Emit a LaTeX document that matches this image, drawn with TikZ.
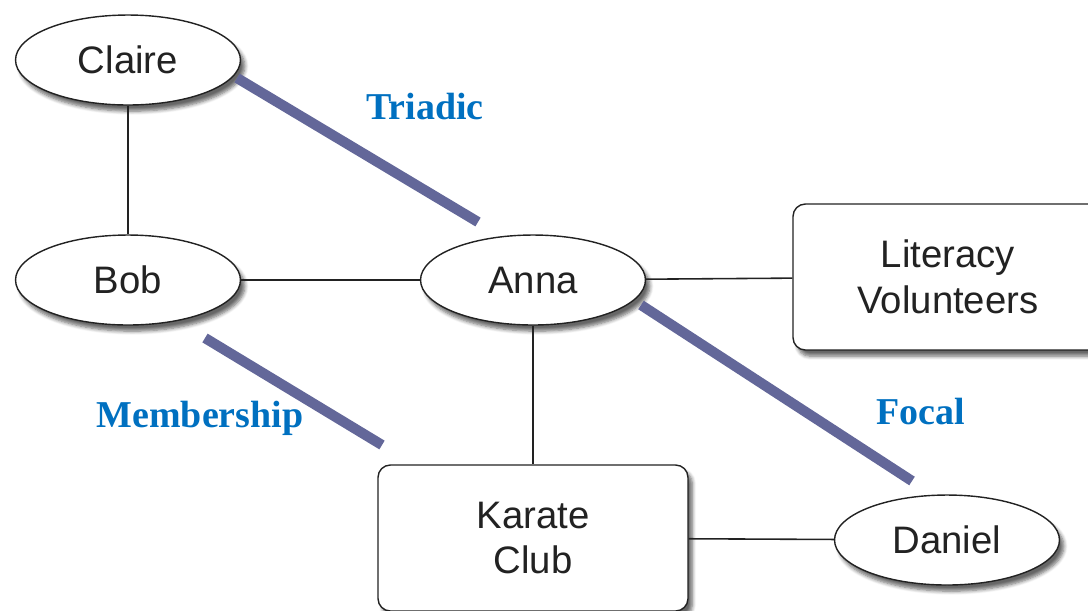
\documentclass[tikz,border=0pt]{standalone}
\usepackage{fontspec}
\setmainfont{Liberation Sans}
\newfontfamily\labelfont{Liberation Serif}
\usepackage{tikz}
\usetikzlibrary{positioning,shapes.geometric,shadows.blur}
\definecolor{TieBlue}{RGB}{99,103,153}
\definecolor{LabelBlue}{RGB}{0,112,192}
\definecolor{InkGray}{RGB}{34,34,34}
\tikzset{
    personnode/.style={ellipse, draw=InkGray, fill=white, line width=0.8pt, minimum width=4.5cm, minimum height=1.8cm, inner sep=0pt, text=InkGray, font=\fontsize{21.8}{26}\selectfont,
        blur shadow={shadow xshift=2.5pt, shadow yshift=-3.5pt, shadow blur steps=6, shadow opacity=60}},
    groupnode/.style={rectangle, rounded corners=7pt, draw=InkGray, fill=white, line width=0.8pt, minimum width=6.2cm, minimum height=2.92cm, align=center, text=InkGray, font=\fontsize{21.8}{26}\selectfont,
        blur shadow={shadow xshift=2.5pt, shadow yshift=-3.5pt, shadow blur steps=6, shadow opacity=60}},
    link/.style={draw=InkGray, line width=0.9pt},
    tiebar/.style={draw=TieBlue, line width=5.8pt},
    tielabel/.style={text=LabelBlue, font=\labelfont\bfseries\fontsize{21.6}{25}\selectfont}
}
\begin{document}
\begin{tikzpicture}[x=0.02cm, y=-0.02cm]
    \useasboundingbox (0,0) rectangle (1088,610);
    \clip (0,0) rectangle (1088,610);
    % people and groups
    \node[personnode] (claire) at (128,60) {Claire};
    \node[personnode] (bob) at (128,280) {Bob};
    \node[personnode] (anna) at (533,280) {Anna};
    \node[personnode] (daniel) at (947,540) {Daniel};
    \node[groupnode] (literacy) at (948,277) {Literacy\\Volunteers};
    \node[groupnode] (karate) at (533,538) {Karate\\Club};
    % ties
    \draw[link] (claire) -- (bob);
    \draw[link] (bob) -- (anna);
    \draw[link] (anna) -- (literacy);
    \draw[link] (anna) -- (karate);
    \draw[link] (karate) -- (daniel);
    % closure bars
    \coordinate (tri a) at (237,78);
    \coordinate (tri b) at (478,222);
    \coordinate (mem a) at (205,338);
    \coordinate (mem b) at (382,445);
    \coordinate (foc a) at (641,305);
    \coordinate (foc b) at (912,481);
    \draw[tiebar] (tri a) -- (tri b);
    \draw[tiebar] (mem a) -- (mem b);
    \draw[tiebar] (foc a) -- (foc b);
    \node[tielabel] (triadic) at (425,107) {Triadic};
    \node[tielabel] (membership) at (200,418) {Membership};
    \node[tielabel] (focal) at (921,412) {Focal};
\end{tikzpicture}
\end{document}
